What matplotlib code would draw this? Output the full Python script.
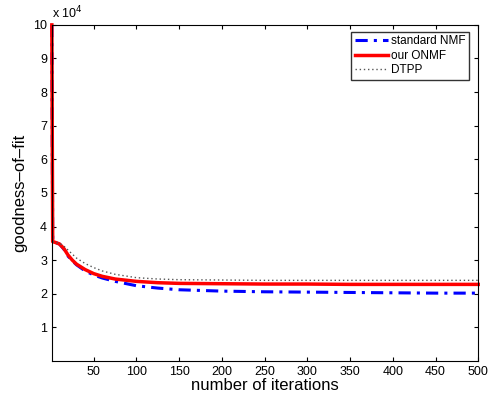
import matplotlib.pyplot as plt

plt.rcParams['font.family'] = ['Liberation Sans', 'DejaVu Sans']

# iterations sampled, values in units of 1e4
iters = [1, 2, 5, 10, 15, 20, 25, 30, 40, 50, 60, 75, 100, 125, 150, 200, 250, 300, 350, 400, 450, 500]
nmf = [10, 3.55, 3.53, 3.48, 3.33, 3.12, 2.98, 2.86, 2.68, 2.56, 2.47, 2.37, 2.24, 2.17, 2.12, 2.08, 2.06, 2.05, 2.04, 2.03, 2.02, 2.02]
onmf = [10, 3.55, 3.53, 3.48, 3.35, 3.15, 3.0, 2.88, 2.72, 2.6, 2.52, 2.44, 2.37, 2.33, 2.31, 2.30, 2.29, 2.29, 2.28, 2.28, 2.28, 2.28]
dtpp = [10, 3.55, 3.53, 3.5, 3.42, 3.3, 3.18, 3.06, 2.9, 2.78, 2.68, 2.58, 2.48, 2.44, 2.42, 2.41, 2.40, 2.40, 2.40, 2.40, 2.40, 2.40]

fig = plt.figure(figsize=(4.89, 3.95), dpi=100)
ax = fig.add_axes([0.106, 0.086, 0.872, 0.851])

ax.plot(iters, nmf, color='#0000ff', lw=2.2, ls=(0, (4, 2, 1, 2)), label='standard NMF', clip_on=False)
ax.plot(iters, onmf, color='#ff0000', lw=2.5, label='our ONMF', clip_on=False)
ax.plot(iters, dtpp, color='#555555', lw=1.0, ls=(0, (1, 2)), label='DTPP')

ax.set_xlim(1, 500)
ax.set_ylim(0, 10)
ax.set_xticks(range(50, 501, 50))
ax.set_yticks(range(1, 11))
ax.tick_params(direction='in', top=True, right=True, labelsize=9, length=3)
ax.text(0, 1.01, r'x 10$^4$', transform=ax.transAxes, fontsize=9, va='bottom')

ax.set_xlabel('number of iterations', fontsize=12, labelpad=0)
ax.set_ylabel('goodness\u2013of\u2013fit', fontsize=12)

leg = ax.legend(loc='upper right', fontsize=8.5, fancybox=False, edgecolor='black',
                handlelength=2.8, borderpad=0.3, labelspacing=0.2, handletextpad=0.3,
                bbox_to_anchor=(0.979, 0.979), borderaxespad=0)
leg.get_frame().set_linewidth(1.0)

plt.savefig('out.png', dpi=100)
